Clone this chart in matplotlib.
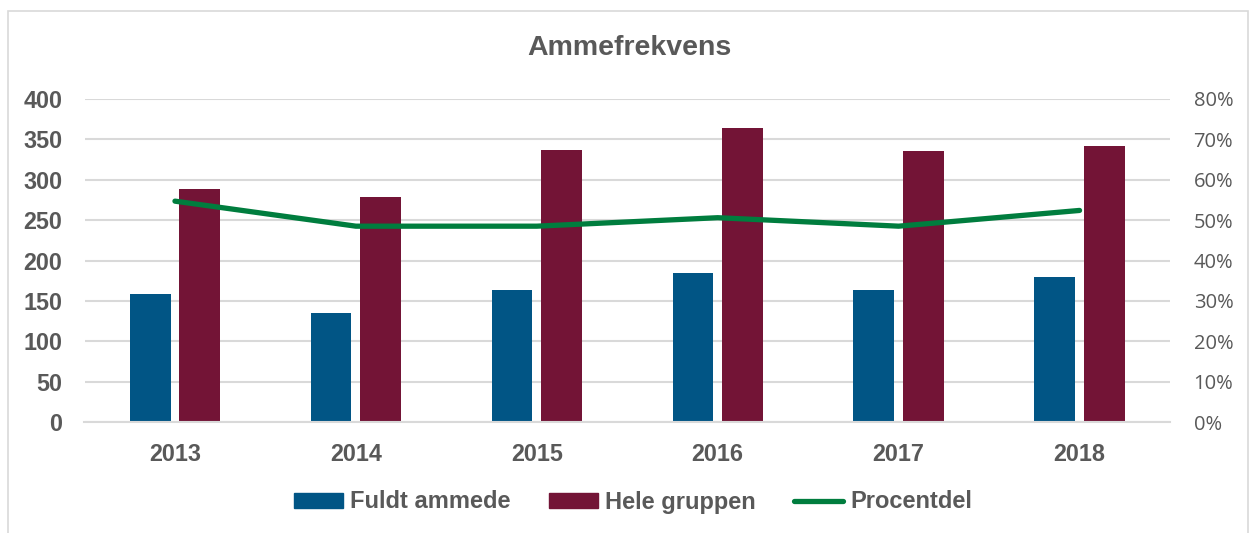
import numpy as np
import matplotlib
matplotlib.use("Agg")
import matplotlib.pyplot as plt
from matplotlib.patches import Rectangle, Patch
from matplotlib.lines import Line2D
from matplotlib.ticker import FuncFormatter

# data
years = ["2013", "2014", "2015", "2016", "2017", "2018"]
fuldt_ammede = [158, 135, 163, 184, 163, 179]
hele_gruppen = [289, 279, 337, 364, 336, 342]
procentdel = [0.547, 0.485, 0.485, 0.506, 0.485, 0.524]

blue = "#015585"
wine = "#731436"
green = "#007D3E"
grey_text = "#595959"
grid_col = "#d9d9d9"

plt.rcParams["font.family"] = ["Liberation Sans", "DejaVu Sans"]

fig = plt.figure(figsize=(12.51, 5.33), dpi=100)
W, H = 1251, 533
# chart frame
fig.patches.append(Rectangle((8 / W, -0.02), 1240 / W, (H - 11) / H + 0.02,
                             transform=fig.transFigure, fill=False,
                             edgecolor=grid_col, linewidth=1.2))

ax = fig.add_axes([84.5 / W, (H - 422) / H, 1085.5 / W, 323 / H])
x = np.arange(len(years))
bw = 0.225
off = 0.137
ax.bar(x - off, fuldt_ammede, width=bw, color=blue, zorder=2)
ax.bar(x + off, hele_gruppen, width=bw, color=wine, zorder=2)

ax.set_xlim(-0.5, len(years) - 0.5)
ax.set_ylim(0, 400)
ax.set_yticks(np.arange(0, 401, 50))
ax.set_xticks(x)
ax.set_xticklabels(years)
ax.yaxis.grid(True, color=grid_col, linewidth=1.5)
ax.set_axisbelow(True)
for s in ["top", "left", "right"]:
    ax.spines[s].set_visible(False)
ax.spines["bottom"].set_color(grid_col)
ax.spines["bottom"].set_linewidth(1.5)
ax.tick_params(axis="both", length=0, colors=grey_text, labelsize=16.8)
ax.tick_params(axis="y", pad=16)
ax.tick_params(axis="x", pad=15)
for lab in ax.get_xticklabels() + ax.get_yticklabels():
    lab.set_fontweight("bold")

ax2 = ax.twinx()
ax2.plot(x, procentdel, color=green, linewidth=3.8, solid_capstyle="round",
         solid_joinstyle="round")
ax2.set_ylim(0, 0.8)
ax2.set_yticks(np.arange(0, 0.81, 0.1))
ax2.yaxis.set_major_formatter(FuncFormatter(lambda v, p: f"{v * 100:.0f}%"))
for s in ["top", "left", "right", "bottom"]:
    ax2.spines[s].set_visible(False)
ax2.tick_params(axis="y", length=0, colors=grey_text, labelsize=14.5, pad=17)
for lab in ax2.get_yticklabels():
    lab.set_family(["Open Sans", "DejaVu Sans"])

fig.text(629 / W, 1 - 48 / H, "Ammefrekvens", ha="center", va="center",
         fontsize=20.5, fontweight="bold", color=grey_text)

handles = [Patch(color=blue), Patch(color=wine),
           Line2D([0], [0], color=green, linewidth=3.8, solid_capstyle="round")]
leg = fig.legend(handles, ["Fuldt ammede", "Hele gruppen", "Procentdel"],
                 loc="center", bbox_to_anchor=(633 / W, 1 - 502 / H), ncol=3,
                 frameon=False, handlelength=2.1, handleheight=0.6,
                 handletextpad=0.3, columnspacing=1.6,
                 prop={"size": 17, "weight": "bold"})
for t in leg.get_texts():
    t.set_color(grey_text)

fig.savefig("out.png", dpi=100)
